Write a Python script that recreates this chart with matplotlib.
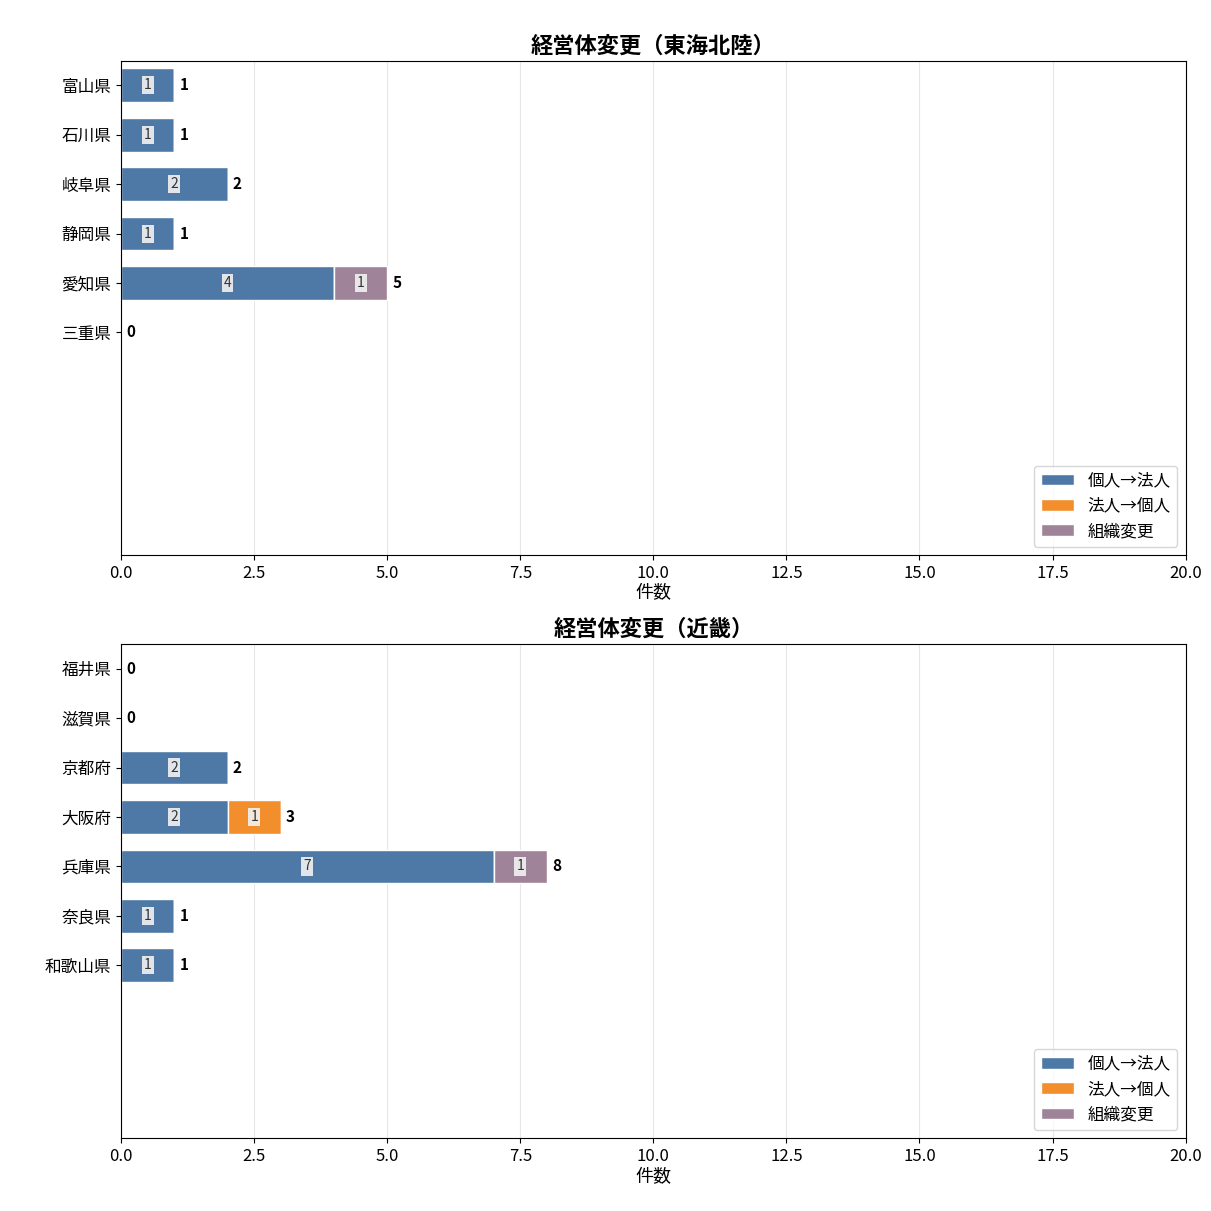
import numpy as np
import matplotlib.pyplot as plt

plt.rcParams['font.family'] = ['Noto Sans CJK JP', 'DejaVu Sans']

series_names = ["個人→法人", "法人→個人", "組織変更"]
colors = ["#4e79a7", "#f28e2b", "#9e8399"]

tokai_pref = ["富山県", "石川県", "岐阜県", "静岡県", "愛知県", "三重県"]
tokai_vals = [[1, 1, 2, 1, 4, 0],
              [0, 0, 0, 0, 0, 0],
              [0, 0, 0, 0, 1, 0]]

kinki_pref = ["福井県", "滋賀県", "京都府", "大阪府", "兵庫県", "奈良県", "和歌山県"]
kinki_vals = [[0, 0, 2, 2, 7, 1, 1],
              [0, 0, 0, 1, 0, 0, 0],
              [0, 0, 0, 0, 1, 0, 0]]


def draw(ax, prefs, vals, title):
    y = np.arange(len(prefs))
    left = np.zeros(len(prefs))
    for name, v, c in zip(series_names, vals, colors):
        v = np.array(v, dtype=float)
        ax.barh(y, v, left=left, height=0.68, color=c, edgecolor="white",
                linewidth=1, label=name)
        for yi, (l, w) in enumerate(zip(left, v)):
            if w > 0:
                ax.text(l + w / 2, yi, f"{int(w)}", ha="center", va="center",
                        fontsize=10, color="#333333",
                        bbox=dict(boxstyle="square,pad=0.15", fc="#f2f2f2",
                                  ec="none", alpha=0.9))
        left += v
    for yi, t in enumerate(left):
        ax.text(t + 0.1, yi, f"{int(t)}", ha="left", va="center",
                fontsize=11, fontweight="bold")
    ax.set_yticks(y)
    ax.set_yticklabels(prefs, fontsize=12)
    ax.set_ylim(9.5, -0.5)
    ax.set_xlim(0, 20)
    ax.tick_params(axis="x", labelsize=12)
    ax.set_xlabel("件数", fontsize=13, labelpad=2)
    ax.set_title(title, fontsize=16, fontweight="bold", pad=6)
    ax.grid(axis="x", color="#e6e6e6", linewidth=0.8)
    ax.set_axisbelow(True)
    ax.legend(loc="lower right", fontsize=12)


fig, axes = plt.subplots(2, 1, figsize=(12.11, 12.11), dpi=100)
draw(axes[0], tokai_pref, tokai_vals, "経営体変更（東海北陸）")
draw(axes[1], kinki_pref, kinki_vals, "経営体変更（近畿）")
fig.subplots_adjust(left=0.1, right=0.979, top=0.95, bottom=0.06, hspace=0.18)
fig.savefig("out.png", dpi=100)
